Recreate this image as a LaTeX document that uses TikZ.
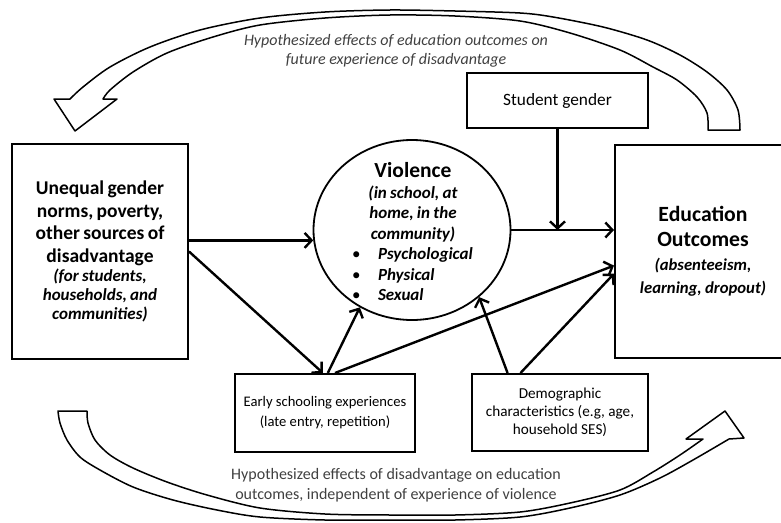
\documentclass[tikz,border=0pt]{standalone}
\usepackage{fontspec}
\setmainfont{Carlito}
\usetikzlibrary{arrows.meta,shapes.geometric}

\begin{document}
\begin{tikzpicture}[x=1pt,y=-1pt,
        box/.style={draw,line width=2pt,inner sep=3pt,align=center},
        link/.style={line width=2.4pt,-{Straight Barb[length=7pt,width=15pt]}},
        bigarrow/.style={line width=1.5pt,line join=round,fill=white},
        note/.style={text=black!75,align=center,font=\fontsize{16}{19.5}\selectfont}]
    \useasboundingbox (0,0) rectangle (781,522);
        %% feedback arrows
        \draw[bigarrow] plot[smooth] coordinates {(708,130) (707,113) (697,97) (677,80) (653,67) (620,50) (570,33) (520,21) (455,16) (390,15) (325,18) (260,25) (213,37) (167,53) (133,72) (110,90) (103,99)}
            -- (117,99) -- (75,131) -- (54,99) -- (70,99)
            -- plot[smooth] coordinates {(70,99) (83,87) (110,67) (150,47) (200,30) (260,18) (325,12) (390,10) (455,11) (520,13) (553,17) (603,27) (647,40) (680,55) (707,72) (727,90) (738,110) (740,130)} -- cycle;
        \draw[bigarrow] plot[smooth] coordinates {(58,411) (60,423) (67,440) (80,457) (100,470) (133,487) (173,500) (217,510) (260,517) (325,520) (390,520) (455,520) (520,517) (570,508) (620,495) (660,478) (693,460) (729,439)}
            -- (744,438) -- (725,411) -- (686,439) -- (703,439)
            -- plot[smooth] coordinates {(703,439) (680,455) (653,472) (620,490) (570,503) (520,512) (455,515) (390,515) (325,514) (260,508) (207,495) (167,482) (133,468) (110,455) (95,440) (88,423) (87,411)} -- cycle;
        \node[note,font=\fontsize{16}{19.5}\selectfont\itshape] (topnote) at (396,51) {Hypothesized effects of education outcomes on\\ future experience of disadvantage};
        \node[note] (botnote) at (396,485) {Hypothesized effects of disadvantage on education\\ outcomes, independent of experience of violence};
        %% boxes
        \node[box,minimum width=176pt,minimum height=215pt,text width=170pt] (ineq) at (100,251.5)
            {{\fontsize{19.5}{22.5}\selectfont\bfseries Unequal gender\\ norms, poverty,\\ other sources of\\ disadvantage\par}
             {\fontsize{17}{19}\selectfont\bfseries\itshape (for students,\\ households, and\\ communities)\par}};
        \node[draw,ellipse,line width=1.8pt,minimum width=197pt,minimum height=180pt] (viol) at (412,230) {};
        \node[align=center,text width=130pt] (violtext) at (413,232)
            {{\fontsize{21.5}{24}\selectfont\bfseries Violence\par}
             {\fontsize{17}{20.5}\selectfont\bfseries\itshape (in school, at\\ home, in the\\ community)\\
              \makebox[122pt][l]{\makebox[26pt][l]{\mdseries\upshape\textbullet}Psychological}\\
              \makebox[122pt][l]{\makebox[26pt][l]{\mdseries\upshape\textbullet}Physical}\\
              \makebox[122pt][l]{\makebox[26pt][l]{\mdseries\upshape\textbullet}Sexual}\par}};
        \node[box,minimum width=176pt,minimum height=213pt,text width=170pt] (edu) at (703,251.5)
            {{\fontsize{21.7}{25}\selectfont\bfseries Education\\ Outcomes\par}
             {\fontsize{16.7}{23.5}\selectfont\bfseries\itshape (absenteeism,\\ learning, dropout)\par}};
        \node[box,minimum width=181pt,minimum height=55pt,font=\fontsize{17.3}{20}\selectfont] (gender) at (557.5,100.5) {Student gender};
        \node[box,minimum width=180pt,minimum height=78pt,font=\fontsize{14.6}{20}\selectfont] (early) at (325,413) {Early schooling experiences\\ (late entry, repetition)};
        \node[box,minimum width=176pt,minimum height=77pt,font=\fontsize{15.2}{18}\selectfont] (demo) at (560,412.5) {Demographic\\ characteristics (e.g, age,\\ household SES)};
        %% connectors
        \draw[link] (ineq.east |- viol.186) -- (viol.186);
        \draw[link] (ineq.east) -- (early.93);
        \draw[link] (early.86) -- (viol.236);
        \draw[link] (early.76) -- (edu.189);
        \draw[link] (demo.143) -- (viol.315);
        \draw[link] (demo.135) -- (edu.194);
        \draw[link] (viol.east) -- (viol.east -| edu.west);
        \draw[link] (gender.south) -- (gender.south |- viol.east);
\end{tikzpicture}
\end{document}
